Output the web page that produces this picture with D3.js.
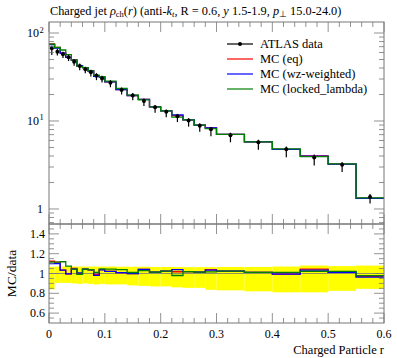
<!DOCTYPE html>
<html><head><meta charset="utf-8">
<script src="https://cdn.jsdelivr.net/npm/d3@7"></script>
<style>body{margin:0;background:#fff}svg{display:block}text{font-family:"Liberation Serif",serif;fill:#000}</style>
</head><body><svg id="c" width="397" height="358"></svg>
<script>
// bin edges (Charged Particle r)
const binEdges = [0,0.01,0.02,0.03,0.04,0.05,0.06,0.07,0.08,0.09,0.10,0.12,0.14,0.16,0.18,0.20,0.22,0.24,0.26,0.28,0.30,0.35,0.40,0.45,0.50,0.55,0.60];
// ATLAS data values and relative errors
const dataVals = [67,61.4,57.3,53,47.2,42.2,38.7,35.7,32.7,30.5,27.2,22.5,19.5,16.9,14.3,12.7,11.3,10.1,8.85,8.05,6.9,5.73,4.78,3.85,3.19,1.37];
const dataErrUp = [0.068,0.07,0.07,0.07,0.07,0.07,0.07,0.07,0.07,0.07,0.07,0.068,0.068,0.068,0.066,0.066,0.065,0.064,0.064,0.064,0.066,0.066,0.07,0.08,0.075,0.08];
const dataErrDn = [0.16,0.095,0.095,0.095,0.1,0.105,0.1,0.105,0.11,0.105,0.11,0.11,0.12,0.125,0.13,0.13,0.14,0.145,0.145,0.165,0.17,0.18,0.19,0.19,0.175,0.155];
// MC predictions
const mcEq = [75.3,68.4,59.2,52.8,49.6,42.1,40.4,37.0,32.4,31.7,27.8,22.7,19.5,17.6,14.5,13.0,11.5,10.3,8.97,8.37,7.06,5.79,4.75,4.02,3.23,1.33];
const mcWz = [73.7,67.5,59.2,52.8,49.3,42.5,40.4,37.0,32.1,31.6,27.8,22.7,19.5,17.6,14.5,13.0,11.75,10.3,8.97,8.32,7.06,5.79,4.75,3.98,3.23,1.32];
const mcLocked = [74.7,68.4,64.1,56.9,49.3,41.8,40.4,37.1,33.1,31.9,28.4,23.4,19.7,17.4,14.5,13.0,11.07,10.3,8.97,8.19,7.06,5.79,4.83,3.93,3.26,1.34];
const seriesNames = ["MC (eq)","MC (wz-weighted)","MC (locked_lambda)"];
const seriesColors = ["#ff0000","#0000ff","#008000"];
const xTickLabels = ["0","0.1","0.2","0.3","0.4","0.5","0.6"];
const ratioTickLabels = ["0.6","0.8","1","1.2","1.4"];

const L=49,R=384,mT=22,mB=224,rT=224,rB=323;
const svg=d3.select("#c");
const x=d3.scaleLinear().domain([0,0.6]).range([L,R]);
const y=d3.scaleLog().domain([0.675,133.4]).range([mB,mT]);
const yr=d3.scaleLinear().domain([0.5,1.5]).range([rB,rT]);
const mcs=[mcEq,mcWz,mcLocked];
const nb=dataVals.length;

svg.append("defs").append("clipPath").attr("id","rc").append("rect").attr("x",L).attr("y",rT).attr("width",R-L).attr("height",rB-rT);

// ratio band
const rg=svg.append("g").attr("clip-path","url(#rc)");
for(let i=0;i<nb;i++){
  rg.append("rect").attr("x",x(binEdges[i])).attr("width",x(binEdges[i+1])-x(binEdges[i]))
    .attr("y",yr(1+dataErrUp[i])).attr("height",yr(1-dataErrDn[i])-yr(1+dataErrUp[i])).attr("fill","#ffff00");
}
rg.append("line").attr("x1",L).attr("x2",R).attr("y1",yr(1)).attr("y2",yr(1)).attr("stroke","#777").attr("stroke-width",0.8);

function stepPts(vals,f){const p=vals.map((v,i)=>[binEdges[i],f(v,i)]);p.push([binEdges[nb],f(vals[nb-1],nb-1)]);return p;}

mcs.forEach((m,k)=>{
  const ln=d3.line().x(d=>x(d[0])).y(d=>yr(d[1])).curve(d3.curveStepAfter);
  rg.append("path").attr("d",ln(stepPts(m,(v,i)=>v/dataVals[i]))).attr("fill","none").attr("stroke",seriesColors[k]).attr("stroke-width",1.3);
});

// main MC lines
mcs.forEach((m,k)=>{
  const ln=d3.line().x(d=>x(d[0])).y(d=>y(d[1])).curve(d3.curveStepAfter);
  svg.append("path").attr("d",ln(stepPts(m,v=>v))).attr("fill","none").attr("stroke",seriesColors[k]).attr("stroke-width",1.3);
});

// data points
for(let i=0;i<nb;i++){
  const cx=x((binEdges[i]+binEdges[i+1])/2), v=dataVals[i];
  svg.append("line").attr("x1",cx).attr("x2",cx).attr("y1",y(v*(1+dataErrUp[i]))).attr("y2",y(v*(1-dataErrDn[i]))).attr("stroke","#000").attr("stroke-width",1.2);
  svg.append("circle").attr("cx",cx).attr("cy",y(v)).attr("r",2).attr("fill","#000");
}

// frames
const fc="#777";
[[mT,mB],[rT,rB]].forEach(([t,b])=>svg.append("rect").attr("x",L).attr("y",t).attr("width",R-L).attr("height",b-t).attr("fill","none").attr("stroke",fc).attr("stroke-width",1));

const tk=svg.append("g").attr("stroke",fc).attr("stroke-width",0.8);
function xt(yy,dir){
  for(let j=0;j<=30;j++){const v=j*0.02;const maj=(j%5===0);const len=maj?10:5;const px=x(v);
    tk.append("line").attr("x1",px).attr("x2",px).attr("y1",yy).attr("y2",yy+dir*len);}
}
xt(mT,1);xt(mB,-1);xt(rT,1);xt(rB,-1);
// main y ticks
for(let e=-1;e<=2;e++){for(let m=1;m<10;m++){const v=m*Math.pow(10,e);if(v<0.675||v>133.4)continue;const len=m===1?10:5;const py=y(v);
  tk.append("line").attr("x1",L).attr("x2",L+len).attr("y1",py).attr("y2",py);
  tk.append("line").attr("x1",R).attr("x2",R-len).attr("y1",py).attr("y2",py);}}
// ratio y ticks
for(let j=11;j<=29;j++){const v=j*0.05;const maj=(j%4===0);const len=maj?10:5;const py=yr(v);
  tk.append("line").attr("x1",L).attr("x2",L+len).attr("y1",py).attr("y2",py);
  tk.append("line").attr("x1",R).attr("x2",R-len).attr("y1",py).attr("y2",py);}

// labels
const fs=12;
[[100,"2"],[10,"1"]].forEach(([v,s])=>{
  svg.append("text").attr("x",39).attr("y",y(v)+4).attr("text-anchor","end").attr("font-size",fs).text("10");
  svg.append("text").attr("x",39.5).attr("y",y(v)-0.5).attr("font-size",8.5).text(s);
});
svg.append("text").attr("x",43).attr("y",y(1)+4).attr("text-anchor","end").attr("font-size",fs).text("1");
ratioTickLabels.forEach(s=>svg.append("text").attr("x",45).attr("y",yr(+s)+4).attr("text-anchor","end").attr("font-size",fs).text(s));
xTickLabels.forEach(s=>svg.append("text").attr("x",x(+s)).attr("y",338).attr("text-anchor","middle").attr("font-size",fs).text(s));
svg.append("text").attr("x",R).attr("y",354).attr("text-anchor","end").attr("font-size",12.5).text("Charged Particle r");
svg.append("text").attr("transform",`translate(16,${yr(1)}) rotate(-90)`).attr("text-anchor","middle").attr("font-size",13.5).text("MC/data");

// title
const ti=svg.append("text").attr("x",50).attr("y",15).attr("font-size",12.3);
ti.append("tspan").text("Charged jet ");
ti.append("tspan").attr("font-style","italic").text("ρ");
ti.append("tspan").attr("font-size",8.5).attr("dy",2).text("ch");
ti.append("tspan").attr("dy",-2).text("(");
ti.append("tspan").attr("font-style","italic").text("r");
ti.append("tspan").text(") (anti-");
ti.append("tspan").attr("font-style","italic").text("k");
ti.append("tspan").attr("font-style","italic").attr("font-size",8.5).attr("dy",2).text("t");
ti.append("tspan").attr("dy",-2).text(", R = 0.6, ");
ti.append("tspan").attr("font-style","italic").text("y");
ti.append("tspan").text(" 1.5-1.9, ");
ti.append("tspan").attr("font-style","italic").text("p");
ti.append("tspan").attr("font-size",8.5).attr("dy",2).text("⊥");
ti.append("tspan").attr("dy",-2).text(" 15.0-24.0)");

// legend
const lg=[{n:"ATLAS data",c:"#000",d:true}].concat(seriesNames.map((n,k)=>({n,c:seriesColors[k]})));
lg.forEach((e,i)=>{const yy=44+i*15;
  svg.append("line").attr("x1",227).attr("x2",253).attr("y1",yy).attr("y2",yy).attr("stroke",e.c).attr("stroke-width",1.2);
  if(e.d)svg.append("circle").attr("cx",240).attr("cy",yy).attr("r",2).attr("fill","#000");
  svg.append("text").attr("x",260).attr("y",yy+4).attr("font-size",12.5).text(e.n);
});
</script></body></html>
